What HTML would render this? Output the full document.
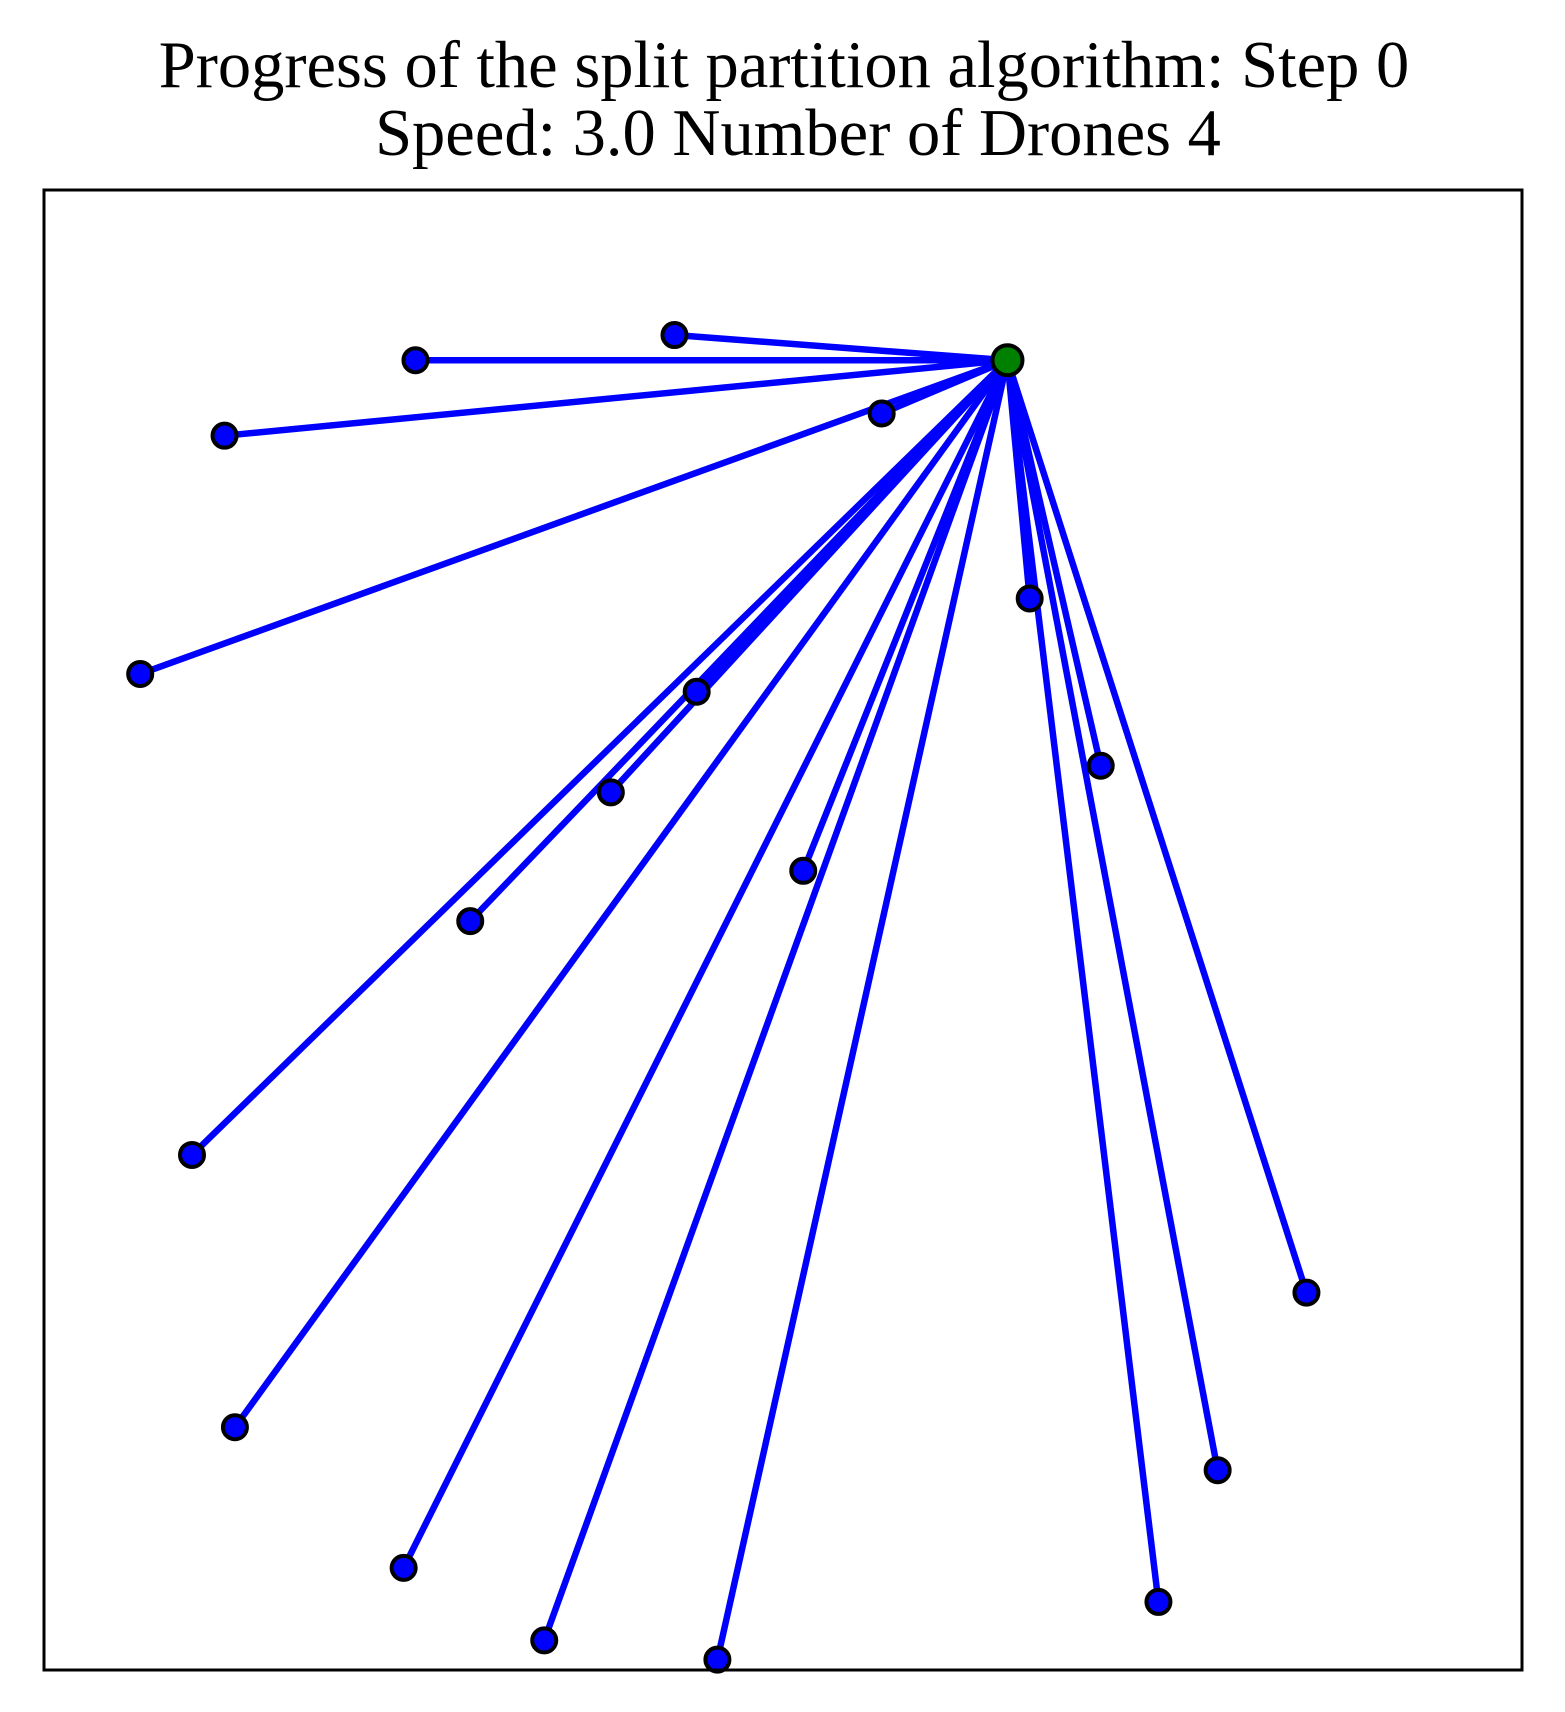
<!DOCTYPE html>
<html><head><meta charset="utf-8"><style>
html,body{margin:0;padding:0;background:#fff;}
svg{display:block;}
</style></head><body>
<svg id="chart" width="1565" height="1712" xmlns="http://www.w3.org/2000/svg">
<text x="784" y="87" text-anchor="middle" font-family="Liberation Serif, serif" font-size="66.5">Progress of the split partition algorithm: Step 0</text>
<text x="798" y="155" text-anchor="middle" font-family="Liberation Serif, serif" font-size="66.5">Speed: 3.0 Number of Drones 4</text>
<g id="plot"></g>
<rect x="44" y="190" width="1478" height="1480" fill="none" stroke="#000" stroke-width="3"/>
</svg>
<script>
const hub = [65.1, 88.5];
const pointsX = [42.6, 25.1, 12.2, 6.5, 56.6, 44.1, 38.3, 28.8, 10.0, 12.9, 24.3, 33.8, 45.5, 51.3, 66.6, 71.4, 85.3, 79.3, 75.3];
const pointsY = [90.2, 88.5, 83.4, 67.3, 84.9, 66.1, 59.3, 50.6, 34.8, 16.4, 6.9, 2.0, 0.7, 54.0, 72.4, 61.1, 25.5, 13.5, 4.6];
const xScale = v => 44 + v * 14.8;
const yScale = v => 1670 - v * 14.8;
const NS = 'http://www.w3.org/2000/svg';
const g = document.getElementById('plot');
const hx = xScale(hub[0]), hy = yScale(hub[1]);
pointsX.forEach((px, i) => {
  const l = document.createElementNS(NS, 'line');
  l.setAttribute('x1', xScale(px)); l.setAttribute('y1', yScale(pointsY[i]));
  l.setAttribute('x2', hx); l.setAttribute('y2', hy);
  l.setAttribute('stroke', '#0000ff'); l.setAttribute('stroke-width', '6.5');
  
  
  g.appendChild(l);
});
pointsX.forEach((px, i) => {
  const c = document.createElementNS(NS, 'circle');
  c.setAttribute('cx', xScale(px)); c.setAttribute('cy', yScale(pointsY[i]));
  c.setAttribute('r', '12'); c.setAttribute('fill', '#0000ff');
  c.setAttribute('stroke', '#000'); c.setAttribute('stroke-width', '4');
  
  
  g.appendChild(c);
});
const h = document.createElementNS(NS, 'circle');
h.setAttribute('cx', hx); h.setAttribute('cy', hy); h.setAttribute('r', '15');
h.setAttribute('fill', '#008000'); h.setAttribute('stroke', '#000'); h.setAttribute('stroke-width', '4');


g.appendChild(h);
</script>
</body></html>
